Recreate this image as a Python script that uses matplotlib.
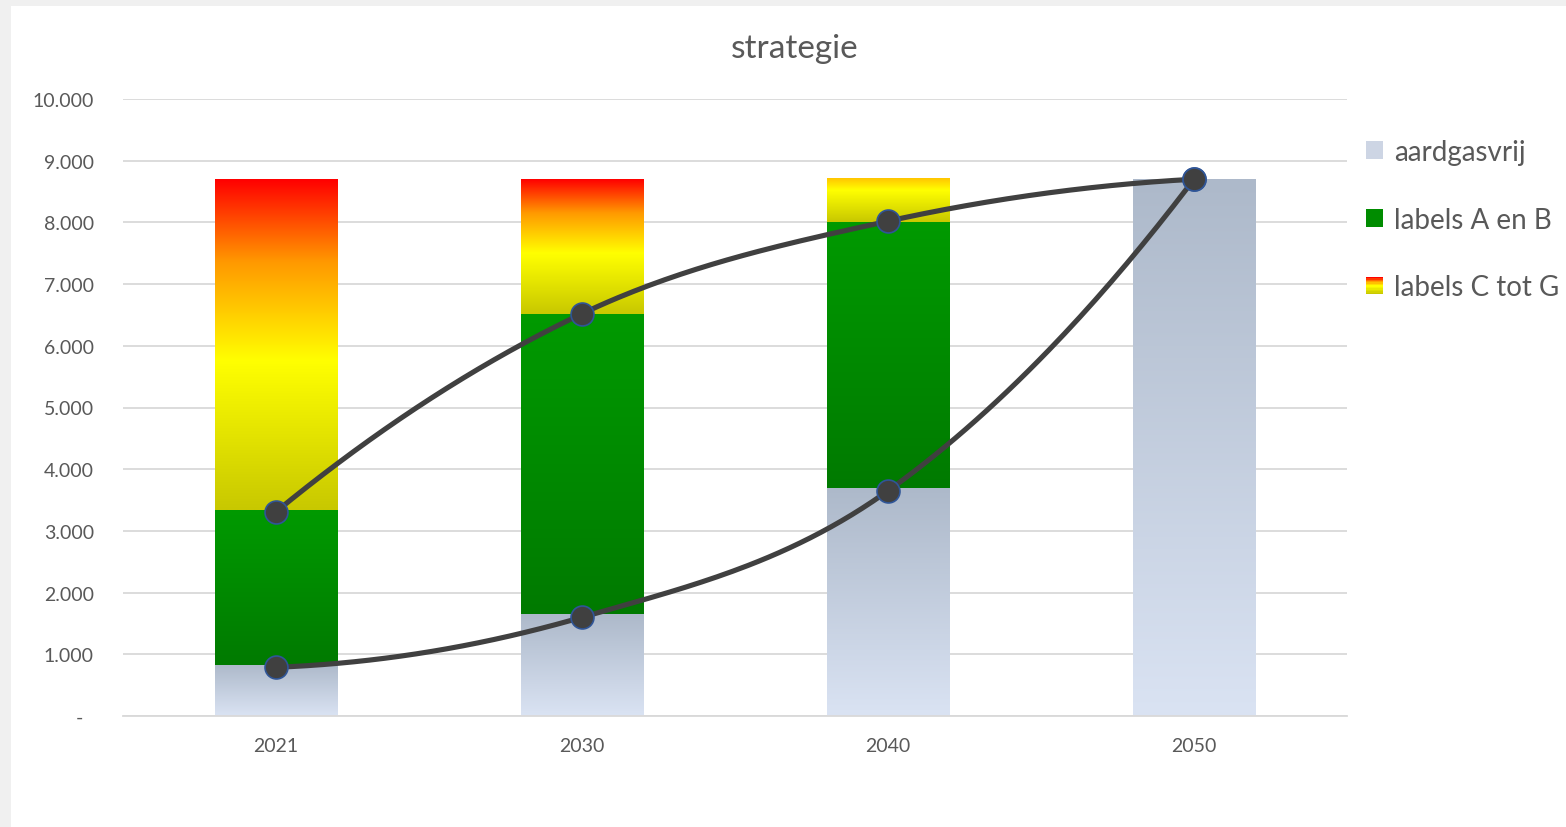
import matplotlib

matplotlib.use("Agg")
import matplotlib.pyplot as plt
import numpy as np
from matplotlib.colors import LinearSegmentedColormap
from matplotlib.legend_handler import HandlerBase
from matplotlib.patches import Rectangle


JAREN = ["2021", "2030", "2040", "2050"]
AARDGASVRIJ = [830, 1650, 3700, 8700]
LABELS_AB = [2510, 4870, 4300, 0]
LABELS_CG = [5360, 2180, 700, 0]

LIJN_ONDER = [790, 1600, 3650, 8700]
LIJN_BOVEN = [3310, 6520, 8020, 8700]

Y_TICKS = [0, 1000, 2000, 3000, 4000, 5000, 6000, 7000, 8000, 9000, 10000]
Y_LABELS = ["-  ", "1.000", "2.000", "3.000", "4.000", "5.000",
            "6.000", "7.000", "8.000", "9.000", "10.000"]

# bovenkant van de rood-geel verloop per balk (2040 komt niet tot rood)
CG_TOP = [1.0, 1.0, 0.62, 1.0]

GRIJS_TEKST = "#595959"
FONT = "Lato"

cmap_gas = LinearSegmentedColormap.from_list("gas", ["#dae3f3", "#adb9ca"])
cmap_ab = LinearSegmentedColormap.from_list("ab", ["#007a00", "#009a00"])
cmap_cg = LinearSegmentedColormap.from_list(
    "cg", [(0.0, "#c8c800"), (0.45, "#ffff00"), (0.75, "#ff9900"), (1.0, "#ff0000")]
)


def verloop_balk(ax, x, onder, hoogte, cmap, breedte=0.4, v0=0.0, v1=1.0):
    if hoogte <= 0:
        return
    grad = np.linspace(v0, v1, 256).reshape(-1, 1)
    ax.imshow(
        grad,
        extent=[x - breedte / 2, x + breedte / 2, onder, onder + hoogte],
        origin="lower",
        aspect="auto",
        cmap=cmap,
        vmin=0,
        vmax=1,
        interpolation="bilinear",
        zorder=2,
    )


def glad_pad(ax, xs, ys, n=60):
    # Excel-achtige gladde lijn: bezier in schermcoordinaten,
    # raaklijnen zoals catmull-rom, parabolische uiteinden
    p = ax.transData.transform(np.column_stack([xs, ys]))
    k = len(p)
    raak = np.zeros_like(p)
    for i in range(1, k - 1):
        raak[i] = (p[i + 1] - p[i - 1]) / 2
    raak[0] = 2 * (p[1] - p[0]) - raak[1]
    raak[-1] = 2 * (p[-1] - p[-2]) - raak[-2]
    uit = []
    t = np.linspace(0, 1, n)[:, None]
    for i in range(k - 1):
        p1, p2 = p[i], p[i + 1]
        b1 = p1 + raak[i] / 3
        b2 = p2 - raak[i + 1] / 3
        seg = ((1 - t) ** 3) * p1 + 3 * ((1 - t) ** 2) * t * b1 + 3 * (1 - t) * t ** 2 * b2 + t ** 3 * p2
        uit.append(seg)
    uit = np.vstack(uit)
    data = ax.transData.inverted().transform(uit)
    return data[:, 0], data[:, 1]


class VerloopHandler(HandlerBase):
    def __init__(self, cmap):
        super().__init__()
        self.cmap = cmap

    def create_artists(self, legend, orig_handle, xdescent, ydescent, width, height, fontsize, trans):
        stappen = 12
        artists = []
        h = height / stappen
        for i in range(stappen):
            kleur = self.cmap(i / (stappen - 1))
            r = Rectangle((-xdescent, -ydescent + i * h), width, h * 1.05,
                          facecolor=kleur, edgecolor="none", transform=trans)
            artists.append(r)
        return artists


def main():
    fig = plt.figure(figsize=(15.66, 8.28), dpi=100, facecolor="#f0f0f0")
    fig.patches.append(Rectangle((11 / 1566, 0), 1 - 11 / 1566, 1 - 7 / 828,
                                 transform=fig.transFigure, facecolor="white",
                                 edgecolor="none", zorder=-5))

    ax = fig.add_axes([123 / 1566, 111 / 828, 1224 / 1566, 617 / 828])
    ax.set_facecolor("none")

    x = np.arange(len(JAREN))
    ax.set_xlim(-0.5, len(JAREN) - 0.5)
    ax.set_ylim(0, 10000)

    for i in x:
        verloop_balk(ax, i, 0, AARDGASVRIJ[i], cmap_gas)
        verloop_balk(ax, i, AARDGASVRIJ[i], LABELS_AB[i], cmap_ab)
        verloop_balk(ax, i, AARDGASVRIJ[i] + LABELS_AB[i], LABELS_CG[i], cmap_cg, v1=CG_TOP[i])

    ax.set_xlim(-0.5, len(JAREN) - 0.5)
    ax.set_ylim(0, 10000)

    for lijn in (LIJN_ONDER, LIJN_BOVEN):
        lx, ly = glad_pad(ax, x, lijn)
        ax.plot(lx, ly, color="#404040", lw=3.7, solid_capstyle="round", zorder=4)
        ax.plot(x, lijn, linestyle="none", marker="o", markersize=16.5,
                markerfacecolor="#404040", markeredgecolor="#2f5597",
                markeredgewidth=1.2, zorder=5)

    ax.set_yticks(Y_TICKS)
    ax.set_yticklabels(Y_LABELS)
    ax.set_xticks(x)
    ax.set_xticklabels(JAREN)
    ax.tick_params(axis="both", length=0, colors=GRIJS_TEKST, labelsize=14)
    ax.tick_params(axis="y", pad=21)
    ax.tick_params(axis="x", pad=15)
    for lbl in ax.get_xticklabels() + ax.get_yticklabels():
        lbl.set_fontfamily(FONT)

    ax.grid(axis="y", color="#d9d9d9", lw=1.3, zorder=1)
    ax.set_axisbelow(True)
    for kant in ("top", "right", "left"):
        ax.spines[kant].set_visible(False)
    ax.spines["bottom"].set_color("#d9d9d9")
    ax.spines["bottom"].set_linewidth(1.3)

    fig.text(795 / 1566, 1 - 49 / 828, "strategie", ha="center", va="center",
             fontsize=24, color=GRIJS_TEKST, family=FONT)

    h_gas = Rectangle((0, 0), 1, 1, facecolor="#cdd5e4")
    h_ab = Rectangle((0, 0), 1, 1, facecolor="#008c00")
    h_cg = Rectangle((0, 0), 1, 1, facecolor="#ff0000")
    fig.legend(
        [h_gas, h_ab, h_cg],
        ["aardgasvrij", "labels A en B", "labels C tot G"],
        handler_map={h_cg: VerloopHandler(cmap_cg)},
        loc="upper left",
        bbox_to_anchor=(1352 / 1566, 1 - 126 / 828),
        frameon=False,
        prop={"family": FONT, "size": 20},
        labelcolor=GRIJS_TEKST,
        handlelength=0.6,
        handleheight=0.6,
        handletextpad=0.4,
        labelspacing=1.5,
        borderpad=0,
    )

    fig.savefig("out.png", dpi=100, facecolor=fig.get_facecolor())


if __name__ == "__main__":
    main()
